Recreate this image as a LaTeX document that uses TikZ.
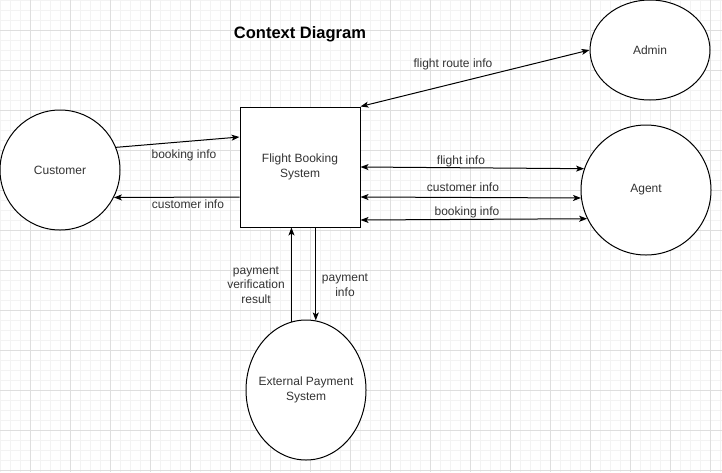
\documentclass[tikz,border=0pt]{standalone}
\usepackage{fontspec}
\setmainfont{Liberation Sans}
\usetikzlibrary{positioning, arrows.meta, shapes.geometric, calc}
\usepackage{xcolor}
\definecolor{labeltext}{HTML}{333333}
\definecolor{gridmajor}{HTML}{DEDEDE}
\definecolor{gridminor}{HTML}{F3F3F3}

\begin{document}
\begin{tikzpicture}[
    x=1pt, y=-1pt,
    every node/.style={font=\fontsize{12}{14.5}\selectfont, text=labeltext},
    entity/.style={ellipse, draw, fill=white, line width=1pt, inner sep=0pt, align=center},
    procbox/.style={rectangle, draw, fill=white, line width=1pt, minimum width=120pt, minimum height=120pt, inner sep=0pt, align=center},
    arr/.style={-{Stealth[length=8pt, width=6pt, inset=2pt]}, line width=1pt},
    biarr/.style={{Stealth[length=8pt, width=6pt, inset=2pt]}-{Stealth[length=8pt, width=6pt, inset=2pt]}, line width=1pt},
    flowlabel/.style={align=center, inner sep=0pt},
]
\useasboundingbox (0,0) rectangle (722,472);

% Background grid
\foreach \x in {0,10,...,720} \draw[gridminor, line width=0.8pt] (\x,0) -- (\x,472);
\foreach \y in {0,10,...,470} \draw[gridminor, line width=0.8pt] (0,\y) -- (722,\y);
\foreach \x in {30,70,...,710} \draw[gridmajor, line width=0.8pt] (\x,0) -- (\x,472);
\foreach \y in {30,70,...,470} \draw[gridmajor, line width=0.8pt] (0,\y) -- (722,\y);

\node[font=\fontsize{16.5}{18}\selectfont\bfseries, text=black] (title) at (300,34) {Context Diagram};

% Process and external entities
\node[procbox] (fbs) at (300,167) {Flight Booking\\System};
\node[entity, minimum width=120pt, minimum height=120pt] (cust) at (60,170) {Customer};
\node[entity, minimum width=120pt, minimum height=100pt] (admin) at (650,50) {Admin};
\node[entity, minimum width=130pt, minimum height=130pt] (agent) at (646,190) {Agent};
\node[entity, inner xsep=-6.5pt, minimum width=120pt, minimum height=140pt] (ext) at (306,390) {External Payment\\System};

% Customer flows
\draw[arr] (cust.22) -- ($(fbs.west)+(0,-30)$);
\node[flowlabel] (lbookc) at (184,155) {booking info};
\draw[arr] ($(fbs.west)+(0,30)$) -- (cust.-27);
\node[flowlabel] (lcustc) at (188,204) {customer info};

% Admin flow
\draw[biarr] (fbs.north east) -- (admin.west);
\node[flowlabel] (lroute) at (453,64) {flight route info};

% Agent flows
\draw[biarr] (fbs.east) -- (agent.161);
\node[flowlabel] (lflight) at (461,161) {flight info};
\draw[biarr] ($(fbs.east)+(0,30)$) -- (agent.187);
\node[flowlabel] (lcusta) at (463,187) {customer info};
\draw[biarr] ($(fbs.east)+(0,53)$) -- (agent.206);
\node[flowlabel] (lbooka) at (467,212) {booking info};

% Payment flows
\draw[arr] (ext.102) -- (ext.102 |- fbs.south);
\node[flowlabel] (lverify) at (256,285) {payment\\verification\\result};
\draw[arr] (fbs.south -| ext.82) -- (ext.82);
\node[flowlabel] (lpay) at (345,285) {payment\\info};

\end{tikzpicture}
\end{document}
